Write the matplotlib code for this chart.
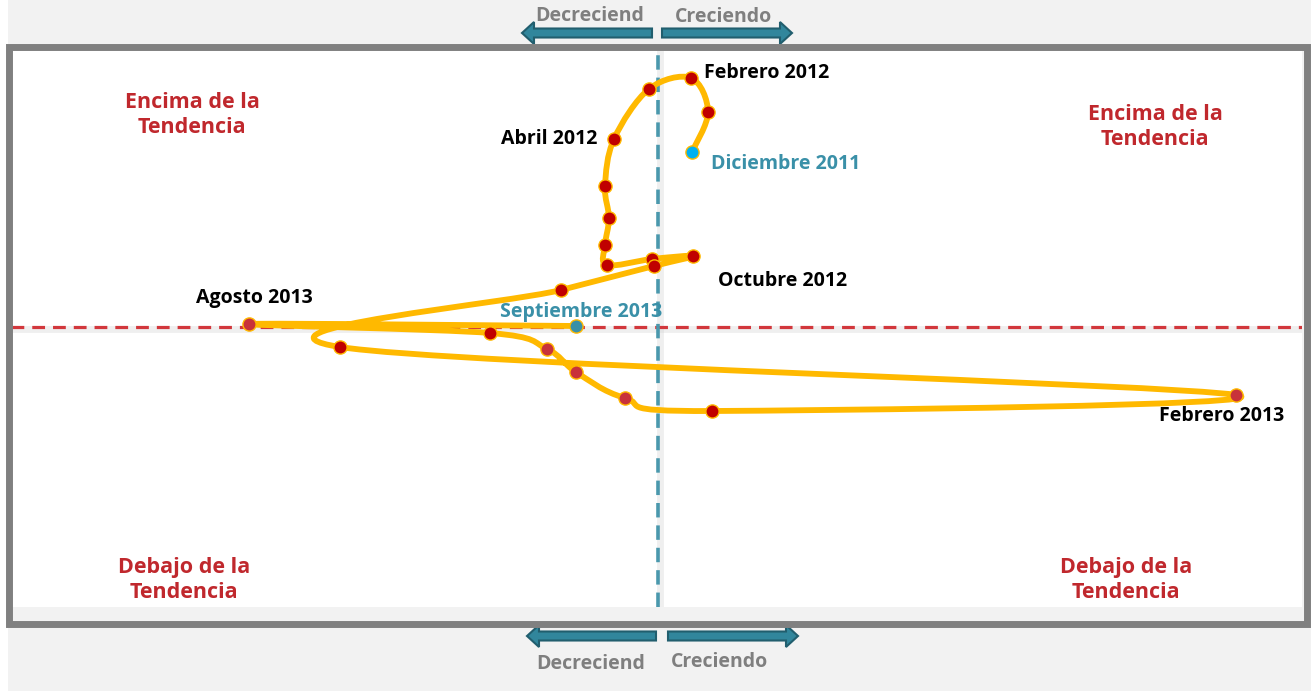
import matplotlib
matplotlib.use("Agg")
import matplotlib.pyplot as plt
import numpy as np
from matplotlib.path import Path
from matplotlib.patches import PathPatch, Rectangle, FancyArrow

plt.rcParams['font.family'] = ['Open Sans', 'DejaVu Sans']

# data: x = variacion (crecimiento), y = indice respecto a la tendencia (100 = tendencia)
months = ['Dic 2011', 'Ene 2012', 'Feb 2012', 'Mar 2012', 'Abr 2012', 'May 2012',
          'Jun 2012', 'Jul 2012', 'Ago 2012', 'Sep 2012', 'Oct 2012', 'Nov 2012',
          'Dic 2012', 'Ene 2013', 'Feb 2013', 'Mar 2013', 'Abr 2013', 'May 2013',
          'Jun 2013', 'Jul 2013', 'Ago 2013', 'Sep 2013']
x_vals = [0.34, 0.50, 0.33, -0.09, -0.44, -0.53, -0.49, -0.53, -0.51, -0.06, 0.35, -0.04,
          -0.97, -3.18, 5.78, 0.54, -0.33, -0.82, -1.11, -1.68, -4.09, -0.82]
y_vals = [117.5, 121.5, 124.9, 123.8, 118.8, 114.1, 110.9, 108.2, 106.2, 106.8, 107.1, 106.1,
          103.7, 98.0, 93.2, 91.6, 92.9, 95.5, 97.8, 99.4, 100.3, 100.1]
light_red = ['Feb 2013', 'Abr 2013', 'May 2013', 'Jun 2013', 'Ago 2013']
labels = {'Feb 2012': 'Febrero 2012', 'Abr 2012': 'Abril 2012', 'Oct 2012': 'Octubre 2012',
          'Ago 2013': 'Agosto 2013', 'Feb 2013': 'Febrero 2013',
          'Dic 2011': 'Diciembre 2011', 'Sep 2013': 'Septiembre 2013'}

W, H = 1311, 691
fig = plt.figure(figsize=(W / 100, H / 100), dpi=100, facecolor='#f2f2f2')


def inch(px, py):
    # pixel (top-left origin) -> inches for dpi_scale_trans
    return px / 100, (H - py) / 100


# white strip at far left
fig.patches.append(Rectangle((0, 0), 8 / 100, H / 100, transform=fig.dpi_scale_trans,
                             facecolor='white', edgecolor='none', zorder=0))

# plot area (white region inside the frame)
ax = fig.add_axes([11 / W, (H - 607) / H, 1291 / W, 557 / H])
ax.set_facecolor('white')
ax.set_xlim(-6.47, 6.44)
ax.set_ylim(72.0, 127.7)
ax.set_xticks([])
ax.set_yticks([])
for s in ax.spines.values():
    s.set_visible(False)

# reference lines (with soft shadow)
ax.axhline(99.85, color='#cccccc', lw=5, alpha=0.3, zorder=1)
ax.axhline(100, color='#d2373c', lw=2.3, ls=(0, (4, 2.5)), zorder=2)
ax.axvline(0.02, color='#cccccc', lw=5, alpha=0.3, zorder=1)
ax.axvline(0, color='#4a98ad', lw=2.6, ls=(0, (4, 2.2)), zorder=2)

# smoothed line (Catmull-Rom as cubic bezier, like spreadsheet smoothing)
pts = np.column_stack([x_vals, y_vals])
n = len(pts)
verts = [tuple(pts[0])]
codes = [Path.MOVETO]
for i in range(n - 1):
    p0 = pts[i - 1] if i > 0 else pts[i]
    p1 = pts[i]
    p2 = pts[i + 1]
    p3 = pts[i + 2] if i + 2 < n else pts[i + 1]
    c1 = p1 + (p2 - p0) / 6
    c2 = p2 - (p3 - p1) / 6
    verts += [tuple(c1), tuple(c2), tuple(p2)]
    codes += [Path.CURVE4] * 3
ax.add_patch(PathPatch(Path(verts, codes), facecolor='none', edgecolor='#ffb900',
                       lw=4.2, capstyle='round', joinstyle='round', zorder=3))

for m, xv, yv in zip(months, x_vals, y_vals):
    if m == 'Dic 2011':
        fc = '#00b0f0'
    elif m == 'Sep 2013':
        fc = '#3a90a8'
    elif m in light_red:
        fc = '#c8323a'
    else:
        fc = '#c00000'
    ax.plot(xv, yv, 'o', ms=9.5, mfc=fc, mec='#ffb900', mew=1, zorder=4)

# point labels
lab_off = {'Feb 2012': (0.13, 0.5, 'left'), 'Abr 2012': (-0.17, 0.0, 'right'),
           'Oct 2012': (0.25, -2.5, 'left'), 'Ago 2013': (-0.53, 2.6, 'left'),
           'Feb 2013': (0.48, -2.1, 'right'), 'Dic 2011': (0.19, -1.2, 'left'),
           'Sep 2013': (0.05, 1.4, 'center')}
for m, xv, yv in zip(months, x_vals, y_vals):
    if m in labels:
        dx, dy, ha = lab_off[m]
        col = '#3a90a8' if m in ('Dic 2011', 'Sep 2013') else 'black'
        ax.text(xv + dx, yv + dy, labels[m], ha=ha, va='center', fontsize=14,
                fontweight='bold', color=col, zorder=5)

# quadrant labels
quad_col = '#c0282d'
for (qx, qy, txt) in [(192, 115, 'Encima de la\nTendencia'), (1155, 127, 'Encima de la\nTendencia'),
                      (184, 580, 'Debajo de la\nTendencia'), (1126, 580, 'Debajo de la\nTendencia')]:
    fig.text(qx / W, 1 - qy / H, txt, ha='center', va='center', fontsize=15.5,
             fontweight='bold', color=quad_col, linespacing=1.3)

# frame
fig.patches.append(Rectangle(inch(8.5, 623.5), 1298 / 100, 577 / 100,
                             transform=fig.dpi_scale_trans, facecolor='none',
                             edgecolor='#808080', lw=5.0, zorder=10))

# direction arrows
arrow_kw = dict(width=0.09, head_width=0.22, head_length=0.12, length_includes_head=True,
                facecolor='#31869c', edgecolor='#215e6e', lw=1.5,
                transform=fig.dpi_scale_trans)
for (x0, x1, yy) in [(652, 522, 33), (662, 792, 33), (656, 527, 636), (668, 798, 636)]:
    a0, b0 = inch(x0, yy)
    a1, _ = inch(x1, yy)
    fig.patches.append(FancyArrow(a0, b0, a1 - a0, 0, **arrow_kw))

for (tx, ty, txt) in [(590, 16, 'Decreciend'), (724, 17, 'Creciendo'),
                      (591, 664, 'Decreciend'), (720, 662, 'Creciendo')]:
    fig.text(tx / W, 1 - ty / H, txt, ha='center', va='center', fontsize=14,
             fontweight='bold', color='#7f7f7f')

fig.savefig('out.png', dpi=100, facecolor=fig.get_facecolor())
